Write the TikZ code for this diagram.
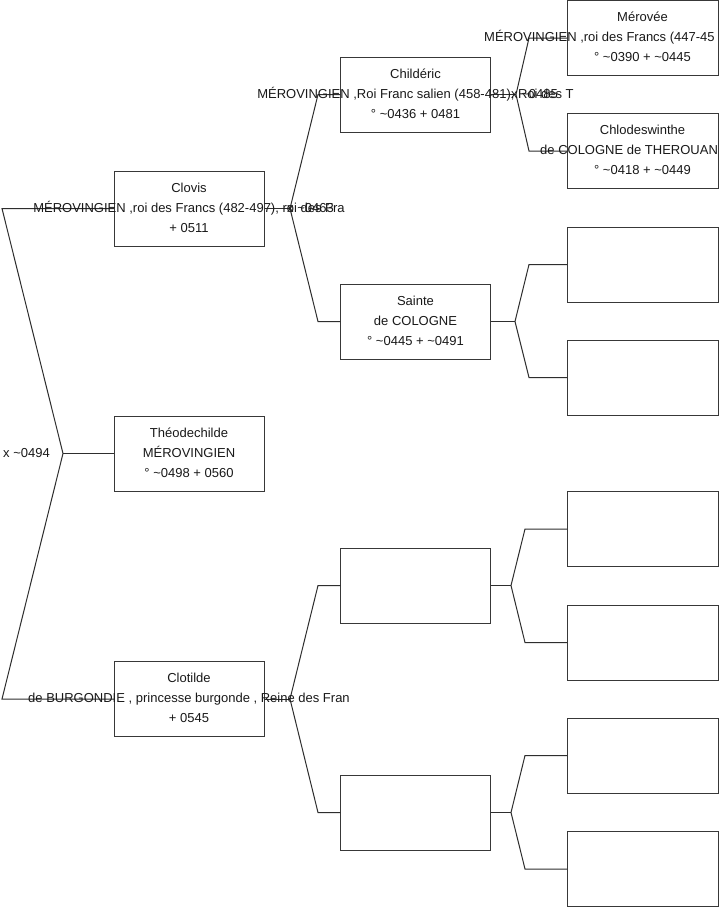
\documentclass[tikz,border=0pt]{standalone}
\usepackage{fontspec}
\setmainfont{Liberation Sans}
\begin{document}
\begin{tikzpicture}[x=1pt,y=-1pt,
  box/.style={draw=black!78,line width=1pt,minimum width=150pt,minimum height=75pt,inner sep=0pt,outer sep=0pt},
  txt/.style={font=\fontsize{13}{20}\selectfont,align=center,inner sep=0pt,text=black!90},
  one/.style={font=\fontsize{13}{20}\selectfont,inner sep=0pt,text=black!90},
  link/.style={draw=black!82,line width=1pt}]
\useasboundingbox (0,0) rectangle (719,908);
\clip (0,0) rectangle (719,908);
\fill[white] (0,0) rectangle (719,908);
% boxes
\node[box] (clovis) at (189,208.5) {};
\node[box] (theo) at (189,453.5) {};
\node[box] (clot) at (189,699) {};
\node[box] (child) at (415.5,94.5) {};
\node[box] (sainte) at (415.5,321.5) {};
\node[box] (gc) at (415.5,585.5) {};
\node[box] (gd) at (415.5,812.5) {};
\node[box,minimum width=151pt] (mero) at (642.5,38) {};
\node[box,minimum width=151pt] (chlod) at (642.5,151) {};
\node[box,minimum width=151pt] (s1) at (642.5,264.5) {};
\node[box,minimum width=151pt] (s2) at (642.5,377.5) {};
\node[box,minimum width=151pt] (c1) at (642.5,529) {};
\node[box,minimum width=151pt] (c2) at (642.5,642.5) {};
\node[box,minimum width=151pt] (d1) at (642.5,755.5) {};
\node[box,minimum width=151pt] (d2) at (642.5,869) {};
% fork points
\coordinate (f0) at (63,453.5);
\coordinate (f1) at (290,208.5);
\coordinate (f2) at (290,699);
\coordinate (f3) at (516,94.5);
\coordinate (f4) at (515,321.5);
\coordinate (f5) at (511,585.5);
\coordinate (f6) at (511,812.5);
% connectors
\draw[link] (clovis.west) -- (2,208.5) -- (f0) -- (2,699) -- (clot.west);
\draw[link] (f0) -- (theo.west);
\draw[link] (clovis.east) -- (f1);
\draw[link] (child.west) -- (318,94.5) -- (f1) -- (318,321.5) -- (sainte.west);
\draw[link] (clot.east) -- (f2);
\draw[link] (gc.west) -- (318,585.5) -- (f2) -- (318,812.5) -- (gd.west);
\draw[link] (child.east) -- (f3);
\draw[link] (mero.west) -- (529,38) -- (f3) -- (529,151) -- (chlod.west);
\draw[link] (sainte.east) -- (f4);
\draw[link] (s1.west) -- (529,264.5) -- (f4) -- (529,377.5) -- (s2.west);
\draw[link] (gc.east) -- (f5);
\draw[link] (c1.west) -- (525,529) -- (f5) -- (525,642.5) -- (c2.west);
\draw[link] (gd.east) -- (f6);
\draw[link] (d1.west) -- (525,755.5) -- (f6) -- (525,869) -- (d2.west);
% texts
\node[txt] (tclovis) at ([yshift=1pt]clovis.center) {Clovis\\MÉROVINGIEN ,roi des Francs (482-497), roi des Fra\\+ 0511};
\node[txt] (ttheo) at ([yshift=1pt]theo.center) {Théodechilde\\MÉROVINGIEN\\° \textasciitilde0498 + 0560};
\node[txt] (tclot) at ([yshift=1pt]clot.center) {Clotilde\\de BURGONDIE , princesse burgonde , Reine des Fran\\+ 0545};
\node[txt] (tchild) at ([yshift=1pt]child.center) {Childéric\\MÉROVINGIEN ,Roi Franc salien (458-481), Roi des T\\° \textasciitilde0436 + 0481};
\node[txt] (tsainte) at ([yshift=1pt]sainte.center) {Sainte\\de COLOGNE\\° \textasciitilde0445 + \textasciitilde0491};
\node[one] (tmero1) at ([yshift=21pt]mero.center) {Mérovée};
\node[one,anchor=west] (tmero2) at (484,37) {MÉROVINGIEN ,roi des Francs (447-45};
\node[one] (tmero3) at ([yshift=-19pt]mero.center) {° \textasciitilde0390 + \textasciitilde0445};
\node[one] (tchl1) at ([yshift=21pt]chlod.center) {Chlodeswinthe};
\node[one,anchor=west] (tchl2) at (540,150) {de COLOGNE de THEROUAN};
\node[one] (tchl3) at ([yshift=-19pt]chlod.center) {° \textasciitilde0418 + \textasciitilde0449};
% marriage labels
\node[one,anchor=west] (m0) at (3,453.5) {x \textasciitilde0494};
\node[one,anchor=west] (m1) at (287,208.5) {x \textasciitilde0463};
\node[one,anchor=west] (m2) at (511,94.5) {x \textasciitilde0485};
\end{tikzpicture}
\end{document}
